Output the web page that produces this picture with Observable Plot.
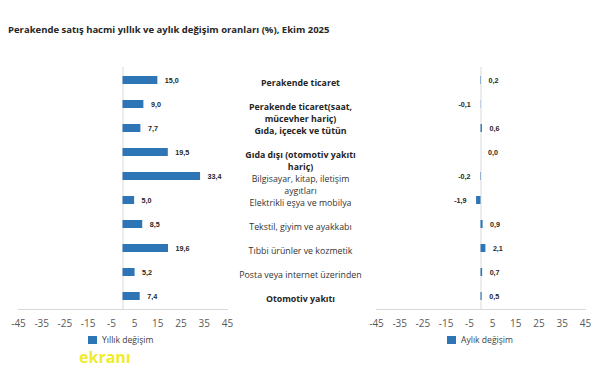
<!DOCTYPE html>
<html>
<head>
<meta charset="utf-8">
<script src="https://cdn.jsdelivr.net/npm/d3@7"></script>
<script src="https://cdn.jsdelivr.net/npm/@observablehq/plot@0.6"></script>
<style>
  body { margin: 0; background: #fff; font-family: "Open Sans", sans-serif; }
  #wrap { position: relative; width: 606px; height: 373px; overflow: hidden; }
  #title { position: absolute; left: 8px; top: 23px; font-size: 9.5px; font-weight: bold; color: #262626; white-space: nowrap; }
  .leg { position: absolute; font-size: 8.6px; color: #404040; white-space: nowrap; display: flex; align-items: center; }
  .sw { display: inline-block; width: 9px; height: 8px; background: #2E75B6; margin-right: 5px; }
  #wm { position: absolute; left: 79px; top: 346px; font-size: 16px; font-weight: bold; color: #f0ec2a; }
  svg { position: absolute; left: 0; top: 0; }
</style>
</head>
<body>
<div id="wrap">
  <div id="title">Perakende satış hacmi yıllık ve aylık değişim oranları (%), Ekim 2025</div>
  <div class="leg" style="left:88px; top:334px;"><span class="sw"></span>Yıllık değişim</div>
  <div class="leg" style="left:447px; top:334px;"><span class="sw"></span>Aylık değişim</div>
  <div id="wm">ekranı</div>
</div>
<script>
const categories = [
  "Perakende ticaret",
  "Perakende ticaret(saat,\nmücevher hariç)",
  "Gıda, içecek ve tütün",
  "Gıda dışı (otomotiv yakıtı\nhariç)",
  "Bilgisayar, kitap, iletişim\naygıtları",
  "Elektrikli eşya ve mobilya",
  "Tekstil, giyim ve ayakkabı",
  "Tıbbi ürünler ve kozmetik",
  "Posta veya internet üzerinden",
  "Otomotiv yakıtı"
];
const boldCategories = [
  "Perakende ticaret",
  "Perakende ticaret(saat,\nmücevher hariç)",
  "Gıda, içecek ve tütün",
  "Gıda dışı (otomotiv yakıtı\nhariç)",
  "Otomotiv yakıtı"
];
const yillik = [15.0, 9.0, 7.7, 19.5, 33.4, 5.0, 8.5, 19.6, 5.2, 7.4];
const aylik = [0.2, -0.1, 0.6, 0.0, -0.2, -1.9, 0.9, 2.1, 0.7, 0.5];
const panels = ["Yıllık değişim", "Aylık değişim"];
const xTicks = [-45, -35, -25, -15, -5, 5, 15, 25, 35, 45];

const rows = [];
categories.forEach((c, i) => rows.push({panel: panels[0], cat: c, value: yillik[i]}));
categories.forEach((c, i) => rows.push({panel: panels[1], cat: c, value: aylik[i]}));
const catRows = categories.map(c => ({panel: panels[0], cat: c, bold: boldCategories.includes(c)}));
const fmt = d => d.value.toFixed(1).replace(".", ",");

const chart = Plot.plot({
  width: 606,
  height: 373,
  marginTop: 67,
  marginBottom: 64,
  marginLeft: 17,
  marginRight: 20,
  style: {fontFamily: "Open Sans, sans-serif", background: "transparent", color: "#595959"},
  fx: {domain: panels, axis: null, paddingInner: 0.415, paddingOuter: 0},
  y: {domain: categories, axis: null, paddingInner: 0.66, paddingOuter: 0.33},
  x: {domain: [-45, 45], ticks: xTicks, tickFormat: d => String(d), tickSize: 0, tickPadding: 10, label: null, fontSize: 7.5},
  marks: [
    Plot.frame({anchor: "bottom", stroke: "#d9d9d9", strokeWidth: 1}),
    Plot.ruleX(panels.map(p => ({panel: p})), {x: 0, fx: "panel", stroke: "#d9d9d9", strokeWidth: 1}),
    Plot.barX(rows, {x: "value", y: "cat", fx: "panel", fill: "#2E75B6"}),
    Plot.text(rows.filter(d => d.value >= 0), {x: "value", y: "cat", fx: "panel", text: fmt, textAnchor: "start", dx: 7, fontSize: 7.2, fontWeight: "bold", fill: "#262626", fontFamily: "Liberation Sans, Arial, sans-serif"}),
    Plot.text(rows.filter(d => d.value < 0), {x: "value", y: "cat", fx: "panel", text: fmt, textAnchor: "end", dx: -10, fontSize: 7.2, fontWeight: "bold", fill: "#262626", fontFamily: "Liberation Sans, Arial, sans-serif"}),
    Plot.text(catRows.filter(d => d.bold), {y: "cat", fx: "panel", text: "cat", frameAnchor: "right", dx: 73, textAnchor: "middle", lineAnchor: "top", dy: -3, lineHeight: 1.35, fontSize: 8.8, fontWeight: "bold", fill: "#262626"}),
    Plot.text(catRows.filter(d => !d.bold), {y: "cat", fx: "panel", text: "cat", frameAnchor: "right", dx: 73, textAnchor: "middle", lineAnchor: "top", dy: -3, lineHeight: 1.35, fontSize: 8.8, fill: "#333333"})
  ]
});
document.getElementById("wrap").appendChild(chart);
document.getElementById("wrap").querySelectorAll(".leg, #title, #wm").forEach(e => e.style.zIndex = 2);
</script>
</body>
</html>
